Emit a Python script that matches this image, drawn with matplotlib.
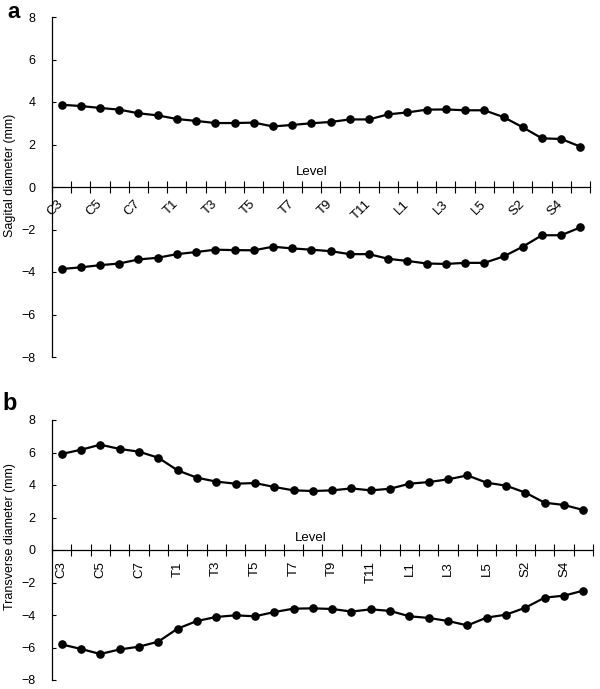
import matplotlib
matplotlib.use("Agg")
import matplotlib.pyplot as plt
from matplotlib.ticker import FixedLocator

plt.rcParams['font.family'] = ['Liberation Sans', 'DejaVu Sans']

levels = ['C3', 'C4', 'C5', 'C6', 'C7', 'C8',
          'T1', 'T2', 'T3', 'T4', 'T5', 'T6', 'T7', 'T8', 'T9', 'T10', 'T11', 'T12',
          'L1', 'L2', 'L3', 'L4', 'L5',
          'S1', 'S2', 'S3', 'S4', 'S5']

sagital_upper = [3.87, 3.81, 3.72, 3.64, 3.47, 3.37, 3.20, 3.11, 3.01, 3.01, 3.03, 2.85, 2.92,
                 3.00, 3.06, 3.18, 3.18, 3.42, 3.51, 3.64, 3.65, 3.61, 3.61, 3.29, 2.81, 2.29, 2.26, 1.90]
sagital_lower = [-3.86, -3.78, -3.68, -3.60, -3.41, -3.33, -3.16, -3.06, -2.95, -2.97, -2.98, -2.81, -2.89,
                 -2.95, -3.02, -3.16, -3.16, -3.38, -3.48, -3.60, -3.62, -3.57, -3.57, -3.27, -2.81, -2.27, -2.27, -1.90]

transverse_upper = [5.91, 6.17, 6.48, 6.22, 6.05, 5.68, 4.90, 4.45, 4.21, 4.08, 4.12, 3.88, 3.67,
                    3.63, 3.67, 3.79, 3.67, 3.77, 4.08, 4.18, 4.35, 4.59, 4.14, 3.96, 3.53, 2.91, 2.77, 2.46]
transverse_lower = [-5.81, -6.09, -6.40, -6.12, -5.95, -5.64, -4.84, -4.37, -4.12, -4.02, -4.08, -3.82, -3.61,
                    -3.59, -3.63, -3.79, -3.65, -3.75, -4.08, -4.18, -4.37, -4.64, -4.16, -3.98, -3.55, -2.93, -2.81, -2.50]

yticks = [-8, -6, -4, -2, 0, 2, 4, 6, 8]

W, H = 600, 689
fig = plt.figure(figsize=(W / 100, H / 100), dpi=100)
axA = fig.add_axes([52 / W, 1 - 357 / H, 538 / W, 340 / H])
axB = fig.add_axes([52 / W, 1 - 680 / H, 541 / W, 260 / H])


def style(ax, upper, lower, ylabel, rot, ylab_y, level_x, level_y):
    x = list(range(len(levels)))
    for series in (upper, lower):
        ax.plot(x, series, color='black', lw=1.6, marker='o', ms=5.2,
                markerfacecolor='black', markeredgecolor='black', zorder=3)
    ax.set_xlim(-0.5, len(levels) - 0.5)
    ax.set_ylim(-8, 8)
    for s in ('top', 'right'):
        ax.spines[s].set_visible(False)
    ax.spines['bottom'].set_position(('data', 0))
    ax.spines['bottom'].set_linewidth(0.9)
    ax.spines['left'].set_linewidth(0.9)
    ax.set_yticks(yticks)
    ax.set_yticklabels([str(v) if v >= 0 else '\u2212' + str(-v) for v in yticks])
    ax.tick_params(axis='y', direction='in', length=3, width=0.8, pad=12, labelsize=9)
    major = list(range(0, len(levels), 2))
    ax.set_xticks(major)
    if rot == 45:
        ax.set_xticklabels([levels[i] for i in major], rotation=45, ha='right', va='center',
                           rotation_mode='anchor')
        ax.tick_params(axis='x', which='major', length=0, pad=11, labelsize=9.5)
    else:
        ax.set_xticklabels([levels[i] for i in major], rotation=90, ha='center', va='top')
        ax.tick_params(axis='x', which='major', length=0, pad=8, labelsize=9.5)
    ax.xaxis.set_minor_locator(FixedLocator([i - 0.5 for i in range(len(levels) + 1)]))
    ax.tick_params(axis='x', which='minor', direction='inout', length=8, width=0.8)
    ax.set_ylabel(ylabel, fontsize=9)
    ax.yaxis.set_label_coords(-0.066, ylab_y)
    ax.set_xlabel('Level', fontsize=9.5, va='bottom')
    ax.xaxis.set_label_coords(level_x, level_y)


style(axA, sagital_upper, sagital_lower, 'Sagital diameter (mm)', 45, 0.535, 0.483, 0.527)
style(axB, transverse_upper, transverse_lower, 'Transverse diameter (mm)', 90, 0.55, 0.479, 0.522)

fig.text(7 / W, 1 - 18 / H, 'a', fontsize=16, fontweight='bold', ha='left', va='baseline')
fig.text(2 / W, 1 - 410 / H, 'b', fontsize=17, fontweight='bold', ha='left', va='baseline')

fig.savefig('out.png', dpi=100)
